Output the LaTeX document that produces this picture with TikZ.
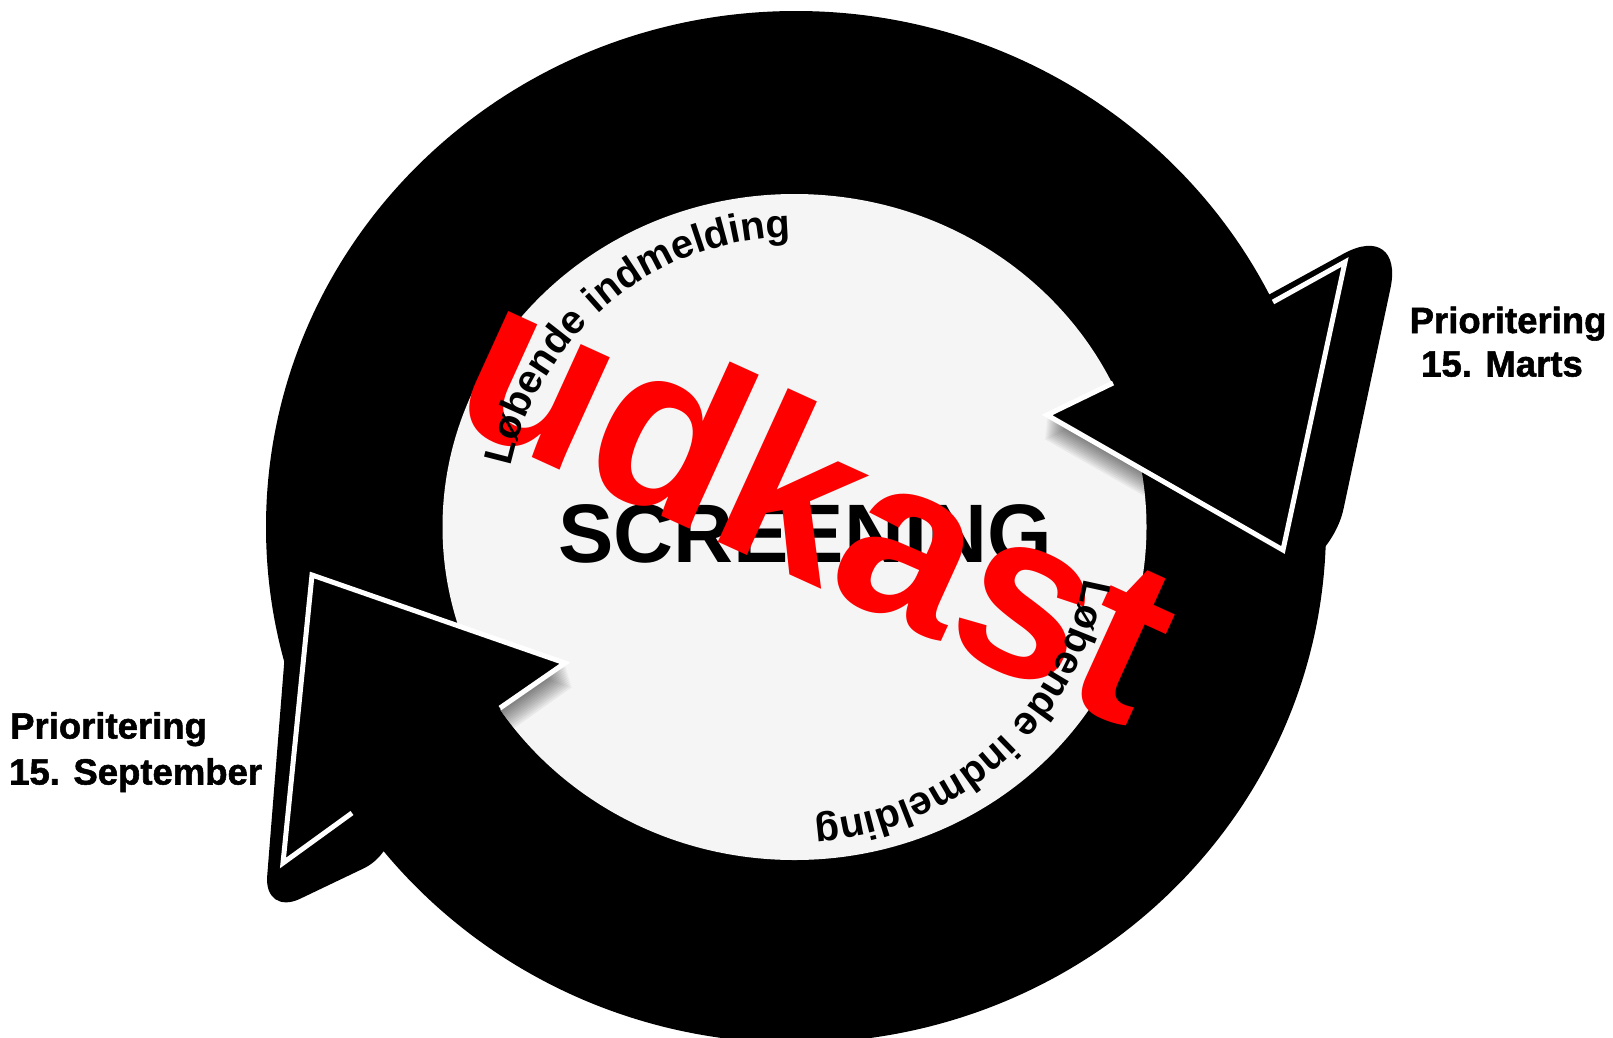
\documentclass[tikz,border=0pt]{standalone}
\usepackage{fontspec}
\setmainfont{Liberation Sans}
\newfontfamily\heavy{Liberation Sans}[BoldFeatures={FakeBold=1.5}]
\usetikzlibrary{decorations.text}
\definecolor{pale}{HTML}{F5F5F5}
\definecolor{stamp}{HTML}{FF0000}
\begin{document}
\begin{tikzpicture}[x=1pt,y=1pt,
  lbl/.style={anchor=base west, inner sep=0pt, font=\heavy\bfseries\fontsize{36.5}{40}\selectfont},
  rim/.style={draw=white, line width=5pt, line join=miter},
  title/.style={inner sep=0pt, font=\bfseries\fontsize{83}{83}\selectfont},
  stampst/.style={inner sep=0pt, text=stamp, font=\bfseries\fontsize{233}{233}\selectfont},
  shade/.style={fill=black, opacity=0.05},
  curvetext/.style={decorate, decoration={text along path, text align=left,
     text={|\bfseries\fontsize{40}{44}\selectfont|Løbende indmelding}}}
]
\useasboundingbox (0,0) rectangle (1613,-1037);
\clip (0,0) rectangle (1613,-1037);
\fill[white] (0,0) rectangle (1613,-1037);
\coordinate (C) at (796,-527);
\coordinate (D) at (794.5,-527);
% ring
\fill[black] (C) ellipse [x radius=530, y radius=516];
\fill[pale] (D) ellipse [x radius=352, y radius=333];
% arrow head corners
\coordinate (p1) at (1273,-302);
\coordinate (p2) at (1345,-262);
\coordinate (p3) at (1283,-550);
\coordinate (p4) at (1047,-415);
\coordinate (p5) at (1113,-383);
\coordinate (q1) at (352,-813);
\coordinate (q2) at (283,-863);
\coordinate (q3) at (312,-575);
\coordinate (q4) at (565,-663);
\coordinate (q5) at (500,-708);
% soft shadows on the inner disc
\begin{scope}
  \clip (D) ellipse [x radius=352, y radius=333];
  \foreach \k in {1,...,12}{
    \fill[shade] ([shift={(-0.2*\k,-2*\k)}]p2) -- ([shift={(-0.2*\k,-2*\k)}]p3) -- ([shift={(-0.2*\k,-2*\k)}]p4) -- cycle;
    \fill[shade] ([shift={(0.6*\k,-2*\k)}]q2) -- ([shift={(0.6*\k,-2*\k)}]q3) -- ([shift={(0.6*\k,-2*\k)}]q4) -- cycle;
  }
\end{scope}
% black rounded backing of the arrow heads
\fill[black] (1250,-305) [rounded corners=70pt] -- (1405,-220) -- (1329,-577) [sharp corners] -- (1250,-590) -- cycle;
\fill[black] (310,-640) -- (286,-640) [rounded corners=40pt] -- (264,-916) -- (400,-851) [sharp corners] -- (380,-700) -- cycle;
% arrow heads
\fill[black] (p2) -- (p3) -- (p4) -- cycle;
\fill[black] (q2) -- (q3) -- (q4) -- cycle;
\draw[rim] (p1) -- (p2) -- (p3) -- (p4) -- (p5);
\draw[rim] (q1) -- (q2) -- (q3) -- (q4) -- (q5);
% texts
\node[title] (scr) at (805,-534) {SCREENING};
\node[stampst, rotate=-24.5] (udk) at (821,-497) {udkast};
\path[curvetext] ([shift={(168:290)}]D) arc[start angle=168, end angle=60, radius=290];
\path[curvetext] ([shift={(-10:294)}]D) arc[start angle=-10, end angle=-130, radius=294];
\node[lbl] (pr1) at (1409.5,-333) {Prioritering};
\node[lbl] (pr1b) at (1421,-376.5) {15. Marts};
\node[lbl] (pr2) at (10,-738.5) {Prioritering};
\node[lbl] (pr2b) at (9,-784.5) {15. September};
\end{tikzpicture}
\end{document}
